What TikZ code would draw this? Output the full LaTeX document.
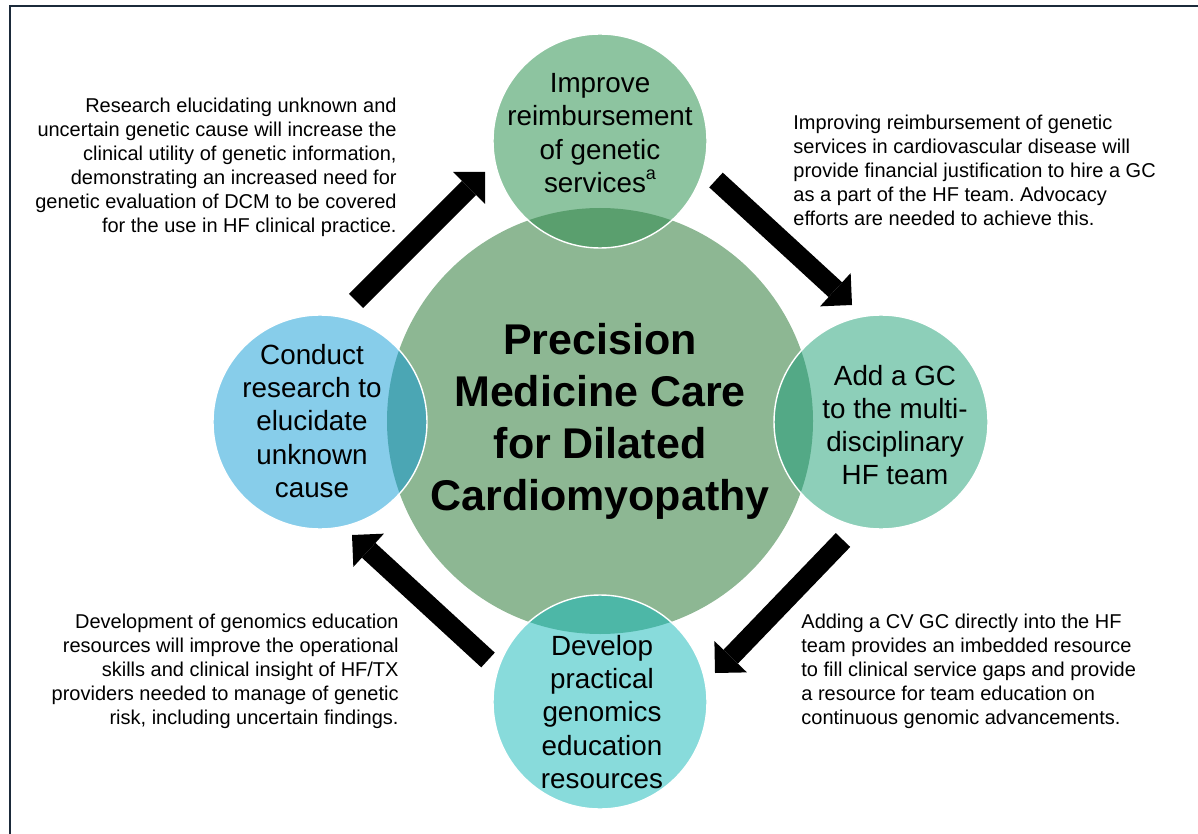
\documentclass[tikz,border=0pt]{standalone}
\usepackage{fontspec}
\setmainfont{Liberation Sans}
\usetikzlibrary{arrows.meta}
\frenchspacing

\definecolor{hubgreen}{HTML}{8DB793}
\definecolor{topfill}{HTML}{8DC4A0}
\definecolor{toplens}{HTML}{5A9F6E}
\definecolor{rightfill}{HTML}{8DCFB9}
\definecolor{rightlens}{HTML}{53A986}
\definecolor{leftfill}{HTML}{87CDEA}
\definecolor{leftlens}{HTML}{4BA6B4}
\definecolor{botfill}{HTML}{88DBDB}
\definecolor{botlens}{HTML}{4DB7A7}
\definecolor{frameblue}{HTML}{1B2A3A}

\begin{document}
\begin{tikzpicture}[x=0.5pt, y=-0.5pt,
        hub/.style = {circle, inner sep=0pt,
            minimum size=213pt, fill=hubgreen},
        sat/.style = {circle, inner sep=0pt,
            minimum size=107pt},
        hubtext/.style = {align=center, inner sep=0pt,
            font=\fontsize{21.5}{26}\selectfont\bfseries},
        sattext/.style = {align=center, inner sep=0pt,
            font=\fontsize{13.9}{16.6}\selectfont},
        note/.style = {inner sep=0pt,
            font=\fontsize{10}{12}\selectfont},
        cycle/.style = {line width=10pt,
            -{Triangle[length=11.3pt, width=22.6pt, line width=0pt]}}]

    \useasboundingbox (0,0) rectangle (1198,834);

    % Frame
    \draw[frameblue, line width=1.2pt] (10,834) -- (10,6) -- (1198,6);

    % Hub
    \node[hub] (hub) at (600,421) {};

    % Satellites
    \node[sat, fill=topfill] (top) at (600,141) {};
    \node[sat, fill=rightfill] (right) at (881,422) {};
    \node[sat, fill=botfill] (bottom) at (600,702) {};
    \node[sat, fill=leftfill] (left) at (320,422) {};

    % Overlaps with the hub
    \foreach \s/\c in {top/toplens, right/rightlens, bottom/botlens, left/leftlens} {
        \begin{scope}
            \clip (hub.center) circle[radius=213];
            \fill[\c] (\s.center) circle[radius=107];
        \end{scope}
        \draw[white, line width=0.7pt] (\s.center) circle[radius=107];
    }

    % Circle texts
    \node[hubtext] (hubtext) at (hub.center)
        {Precision\\Medicine Care\\for Dilated\\Cardiomyopathy};
    \node[sattext] (toptext) at (600,133)
        {Improve\\reimbursement\\of genetic\\services\raisebox{0.45em}{\fontsize{9}{9}\selectfont a}};
    \node[sattext] (righttext) at (895,425)
        {Add a GC\\to the multi-\\disciplinary\\HF team};
    \node[sattext] (bottomtext) at (602,712)
        {Develop\\practical\\genomics\\education\\resources};
    \node[sattext] (lefttext) at (312,421)
        {Conduct\\research to\\elucidate\\unknown\\cause};

    % Notes
    \node[note, anchor=east, align=right] (noteTL) at (397,167)
        {Research elucidating unknown and\\
         uncertain genetic cause will increase the\\
         clinical utility of genetic information,\\
         demonstrating an increased need for\\
         genetic evaluation of DCM to be covered\\
         for the use in HF clinical practice.};
    \node[note, anchor=west, align=left] (noteTR) at (793,170)
        {Improving reimbursement of genetic\\
         services in cardiovascular disease will\\
         provide financial justification to hire a GC\\
         as a part of the HF team. Advocacy\\
         efforts are needed to achieve this.};
    \node[note, anchor=east, align=right] (noteBL) at (399,671)
        {Development of genomics education\\
         resources will improve the operational\\
         skills and clinical insight of HF/TX\\
         providers needed to manage of genetic\\
         risk, including uncertain findings.};
    \node[note, anchor=west, align=left] (noteBR) at (801,671)
        {Adding a CV GC directly into the HF\\
         team provides an imbedded resource\\
         to fill clinical service gaps and provide\\
         a resource for team education on\\
         continuous genomic advancements.};

    % Cycle arrows
    \coordinate (a1s) at (356,301);
    \coordinate (a1e) at (485,172);
    \coordinate (a2s) at (716,180);
    \coordinate (a2e) at (852,305);
    \coordinate (a3s) at (843,540);
    \coordinate (a3e) at (715,673);
    \coordinate (a4s) at (488,660);
    \coordinate (a4e) at (352,535);
    \draw[cycle] (a1s) -- (a1e);
    \draw[cycle] (a2s) -- (a2e);
    \draw[cycle] (a3s) -- (a3e);
    \draw[cycle] (a4s) -- (a4e);

\end{tikzpicture}
\end{document}
